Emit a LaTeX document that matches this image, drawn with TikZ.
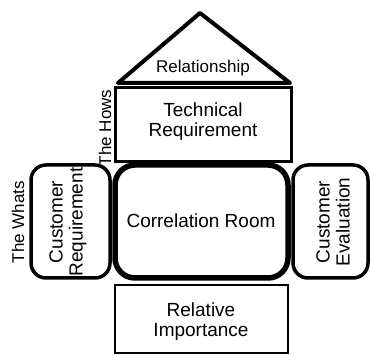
\documentclass[tikz,border=0pt]{standalone}
\usepackage{fontspec}
\setmainfont{Liberation Sans}
\begin{document}
\begin{tikzpicture}[x=1pt,y=1pt,
  box/.style={draw=black,fill=white,line width=#1},
  lbl/.style={align=center,font=\fontsize{19}{20}\selectfont,inner sep=0pt},
  side/.style={font=\fontsize{17}{18}\selectfont,inner sep=0pt,rotate=90}]
\useasboundingbox (0,0) rectangle (370,356);
% roof
\draw[line width=4,line join=round,fill=white] (118,273) -- (200,343) -- (290,273) -- cycle;
\node[lbl,font=\fontsize{17}{18}\selectfont] (rel) at (203,288) {Relationship};
% technical requirement
\draw[box=3] (115,194) rectangle (291,268);
\node[lbl] (tech) at (203,234) {Technical\\Requirement};
\node[side] (hows) at (105,228) {The Hows};
% correlation room
\draw[box=5.5,rounded corners=20] (115,78) rectangle (288,191);
\node[lbl] (corr) at (201,135) {Correlation Room};
% customer requirement
\draw[box=3.5,rounded corners=15] (31,78) rectangle (110,191);
\node[lbl,rotate=90] (creq) at (68,134) {Customer\\Requirement};
\node[side] (whats) at (18,134) {The Whats};
% customer evaluation
\draw[box=3.5,rounded corners=15] (293,78) rectangle (368,191);
\node[lbl,rotate=90] (ceval) at (333,134) {Customer\\Evaluation};
% relative importance
\draw[box=2.5] (115,3) rectangle (288,71);
\node[lbl] (relimp) at (201,34) {Relative\\Importance};
\end{tikzpicture}
\end{document}
